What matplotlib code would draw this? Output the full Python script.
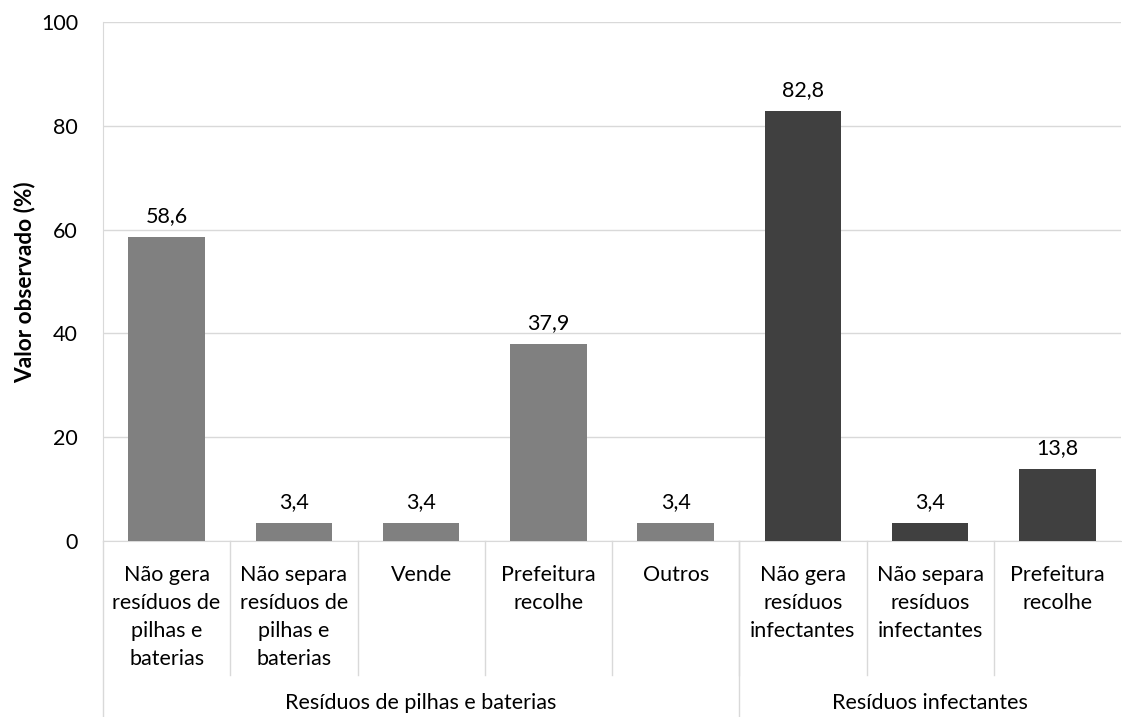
import matplotlib.pyplot as plt
import matplotlib.transforms as mtransforms

plt.rcParams['font.family'] = ['Lato', 'DejaVu Sans']

categorias = ['Não gera\nresíduos de\npilhas e\nbaterias', 'Não separa\nresíduos de\npilhas e\nbaterias',
              'Vende', 'Prefeitura\nrecolhe', 'Outros',
              'Não gera\nresíduos\ninfectantes', 'Não separa\nresíduos\ninfectantes', 'Prefeitura\nrecolhe']
valores = [58.6, 3.4, 3.4, 37.9, 3.4, 82.8, 3.4, 13.8]
grupos = ['Resíduos de pilhas e baterias', 'Resíduos infectantes']
tamanho_grupos = [5, 3]
cores_grupos = ['#808080', '#404040']
yticks = [0, 20, 40, 60, 80, 100]

W, H = 1122, 717
fig = plt.figure(figsize=(W / 100, H / 100), dpi=100)
ax = fig.add_axes([103 / W, 1 - 541 / H, (1121 - 103) / W, (541 - 22) / H])

cores = []
for g, n in enumerate(tamanho_grupos):
    cores += [cores_grupos[g]] * n

x = list(range(len(valores)))
ax.bar(x, valores, width=0.6, color=cores, zorder=3)
for xi, v in zip(x, valores):
    ax.annotate(f'{v:.1f}'.replace('.', ','), (xi, v), xytext=(0, 8), textcoords='offset points',
                ha='center', va='bottom', fontsize=15.5, color='#000000')

ax.set_xlim(-0.5, len(valores) - 0.5)
ax.set_ylim(0, 100)
ax.set_yticks(yticks)
ax.set_yticklabels([str(t) for t in yticks], fontsize=15.5)
ax.tick_params(axis='y', length=0, pad=18)
ax.set_xticks([])
ax.grid(axis='y', color='#d9d9d9', linewidth=1, zorder=0)
for s in ['top', 'right']:
    ax.spines[s].set_visible(False)
for s in ['left', 'bottom']:
    ax.spines[s].set_color('#d9d9d9')
fig.text(25 / W, 1 - 282 / H, 'Valor observado (%)', rotation=90, ha='center', va='center',
         fontsize=16.3, fontweight='bold')

# eixo de categorias em dois níveis
trans = mtransforms.blended_transform_factory(ax.transData, ax.transAxes)
px = 1 / (541 - 22)
for i in range(1, len(valores)):
    ax.plot([i - 0.5, i - 0.5], [0, -134 * px], transform=trans, color='#d9d9d9',
            lw=1, clip_on=False)
ax.plot([-0.5, -0.5], [0, -176 * px], transform=trans, color='#d9d9d9', lw=1, clip_on=False)
for i, lab in enumerate(categorias):
    ax.text(i, -24 * px, lab, transform=trans, ha='center', va='top', fontsize=15.5,
            linespacing=1.5)
inicio = 0
for g, n in enumerate(tamanho_grupos):
    if g > 0:
        ax.plot([inicio - 0.5, inicio - 0.5], [0, -176 * px], transform=trans,
                color='#d9d9d9', lw=1, clip_on=False)
    ax.text(inicio + (n - 1) / 2, -162 * px, grupos[g], transform=trans, ha='center',
            va='center', fontsize=15.5)
    inicio += n

fig.savefig('out.png', dpi=100)
